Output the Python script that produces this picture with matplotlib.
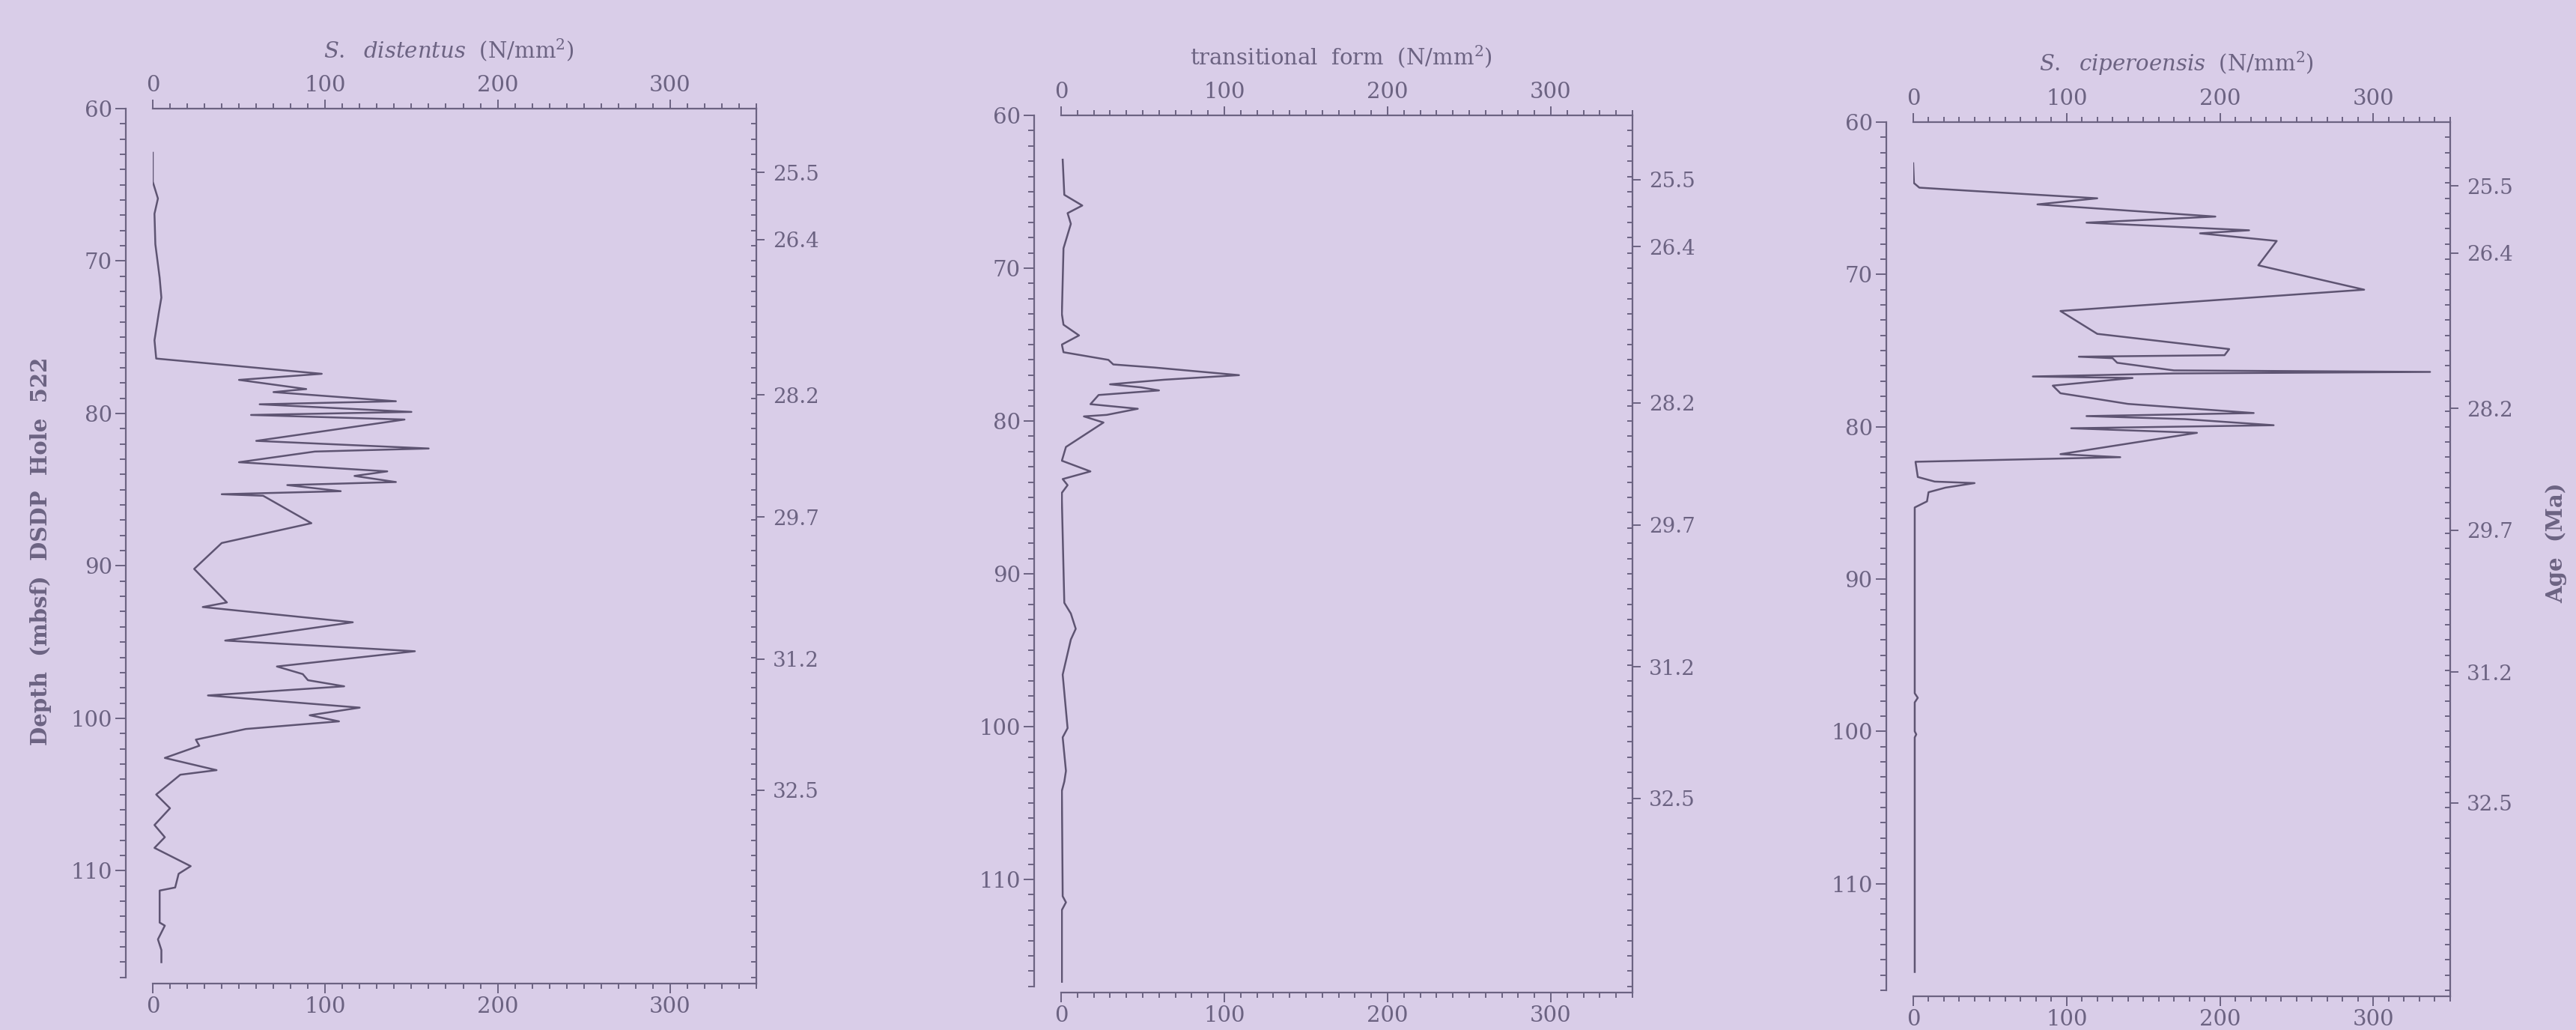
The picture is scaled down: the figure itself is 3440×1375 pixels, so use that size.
import matplotlib.pyplot as plt
from matplotlib.ticker import MultipleLocator

# depth (mbsf) / abundance (N/mm2)
dist_depth = [62.9, 64.8, 65.9, 66.9, 68.9, 71.1, 72.4, 73.4, 75.2, 76.4, 76.9, 77.4, 77.8,
              78.4, 78.6, 79.2, 79.4, 79.9, 80.1, 80.4, 81.8, 82.3, 82.5, 83.2, 83.8, 84.1,
              84.5, 84.7, 85.1, 85.3, 85.4, 87.2, 88.5, 90.2, 92.4, 92.7, 93.7, 94.9, 95.6,
              96.6, 97.1, 97.5, 97.9, 98.5, 99.3, 99.8, 100.2, 100.7, 101.4, 101.8, 102.6,
              103.4, 103.7, 105.0, 105.9, 107.0, 107.8, 108.5, 109.3, 109.7, 110.2, 111.1,
              111.3, 113.4, 113.6, 114.5, 115.2, 116.0]
dist_value = [0, 0, 3, 1, 1.5, 4, 5, 3.5, 1, 2, 50, 98, 50,
              89, 70, 141, 62, 150, 57, 146, 60, 160, 94, 50, 136, 117,
              141, 78, 109, 40, 64, 92, 40, 24, 43, 29, 116, 42, 152,
              72, 87, 90, 111, 32, 120, 91, 108, 54, 25, 27, 7,
              37, 16, 2, 10, 1, 7, 1, 15, 22, 15, 13,
              4, 4, 7, 3, 5, 5]

trans_depth = [62.9, 65.2, 65.9, 66.4, 67.1, 68.7, 73.0, 73.7, 74.4, 75.0, 75.5, 76.0, 76.3,
               76.5, 77.0, 77.3, 77.6, 77.8, 78.0, 78.3, 78.9, 79.2, 79.6, 79.7, 80.1, 81.7,
               82.6, 83.3, 83.8, 84.2, 84.7, 85.2, 89.7, 91.9, 92.6, 93.6, 94.3, 96.6, 100.1,
               100.7, 102.9, 103.6, 104.2, 111.1, 111.5, 112.0, 116.7]
trans_value = [1, 2, 13, 4, 6, 1.5, 0.5, 1.5, 11, 0.5, 1.5, 29, 32,
               57, 109, 63, 30, 49, 60, 23, 18, 47, 28, 14, 26, 3,
               0.5, 18, 1, 4, 0.5, 0.5, 1.5, 2, 6, 9, 6, 1, 4,
               1, 3, 2, 0.5, 1, 3, 0.5, 0.5]

cip_depth = [62.7, 64.0, 64.3, 64.5, 65.0, 65.4, 66.2, 66.6, 67.1, 67.3, 67.8, 69.4, 71.0,
             72.4, 73.9, 74.9, 75.3, 75.4, 75.5, 75.8, 76.3, 76.4, 76.5, 76.7, 76.8, 77.3,
             77.8, 78.1, 78.5, 79.1, 79.3, 79.5, 79.9, 80.1, 80.4, 81.8, 82.0, 82.3, 83.3,
             83.6, 83.7, 84.0, 84.3, 84.9, 85.3, 97.5, 97.8, 98.1, 100.0, 100.2, 100.4, 115.8]
cip_value = [0, 0.5, 4, 36, 120, 81, 197, 113, 219, 187, 237, 225, 294,
             96, 120, 206, 203, 108, 130, 133, 170, 337, 170, 78, 143, 91,
             96, 115, 140, 222, 113, 177, 235, 103, 185, 96, 135, 1.5, 3,
             14, 40, 21, 10, 9, 1, 1, 3, 1, 1, 2, 1, 1]

titles = [r'$\mathit{S.}$  $\mathit{distentus}$  (N/mm$^{2}$)',
          r'transitional  form  (N/mm$^{2}$)',
          r'$\mathit{S.}$  $\mathit{ciperoensis}$  (N/mm$^{2}$)']

age_depths = [64.2, 68.6, 78.8, 86.8, 96.1, 104.7]
age_labels = ['25.5', '26.4', '28.2', '29.7', '31.2', '32.5']

bg = '#d9cde8'
ink = '#6c6382'
line_c = '#5e5472'

plt.rcParams['font.family'] = 'DejaVu Serif'
plt.rcParams['mathtext.fontset'] = 'dejavuserif'

fig = plt.figure(figsize=(34.4, 13.75), dpi=100, facecolor=bg)

boxes = [(0.0593, 0.0451, 0.2343, 0.8495),
         (0.4119, 0.0364, 0.2218, 0.8516),
         (0.7427, 0.0327, 0.2084, 0.8487)]
series = [(dist_depth, dist_value), (trans_depth, trans_value), (cip_depth, cip_value)]

for box, (depth, value), title in zip(boxes, series, titles):
    ax = fig.add_axes(box)
    ax.set_facecolor('none')
    ax.plot(value, depth, color=line_c, lw=1.8)
    ax.set_xlim(0, 350)
    ax.set_ylim(117.4, 60)

    for s in ax.spines.values():
        s.set_color(ink)
        s.set_linewidth(1.6)
    ax.spines['left'].set_position(('outward', 26))
    ax.spines['left'].set_bounds(60, 117)

    ax.xaxis.set_major_locator(MultipleLocator(100))
    ax.xaxis.set_minor_locator(MultipleLocator(10))
    ax.tick_params(axis='x', which='both', top=True, bottom=True,
                   labeltop=True, labelbottom=True, direction='out',
                   color=ink, width=1.4, labelcolor=ink, labelsize=21)
    ax.tick_params(axis='x', which='major', length=9, pad=3)
    ax.tick_params(axis='x', which='minor', length=5)

    ax.yaxis.set_major_locator(MultipleLocator(10))
    ax.yaxis.set_minor_locator(MultipleLocator(1))
    ax.tick_params(axis='y', which='both', left=True, right=False, direction='out',
                   color=ink, width=1.4, labelcolor=ink, labelsize=21)
    ax.tick_params(axis='y', which='major', length=10, pad=3)
    ax.tick_params(axis='y', which='minor', length=6)

    ax.text(0.49, 1.067, title, transform=ax.transAxes, ha='center', va='center',
            color=ink, fontsize=21)

    # age scale on the right spine
    age_ax = ax.twinx()
    age_ax.set_ylim(ax.get_ylim())
    for side in ['left', 'top', 'bottom', 'right']:
        age_ax.spines[side].set_visible(False)
    age_ax.set_yticks(age_depths)
    age_ax.set_yticklabels(age_labels)
    age_ax.yaxis.set_minor_locator(MultipleLocator(1))
    age_ax.tick_params(axis='y', which='major', direction='out', length=8, pad=8,
                       color=ink, width=1.4, labelcolor=ink, labelsize=20)
    age_ax.tick_params(axis='y', which='minor', direction='in', length=5,
                       color=ink, width=1.4)

fig.text(0.0157, 0.465, 'Depth  (mbsf)  DSDP  Hole  522', rotation=90,
         ha='center', va='center', color=ink, fontsize=21, fontweight='bold')
fig.text(0.9925, 0.473, 'Age  (Ma)', rotation=90, ha='center', va='center',
         color=ink, fontsize=21, fontweight='bold')

fig.savefig('out.png', dpi=100, facecolor=bg)
